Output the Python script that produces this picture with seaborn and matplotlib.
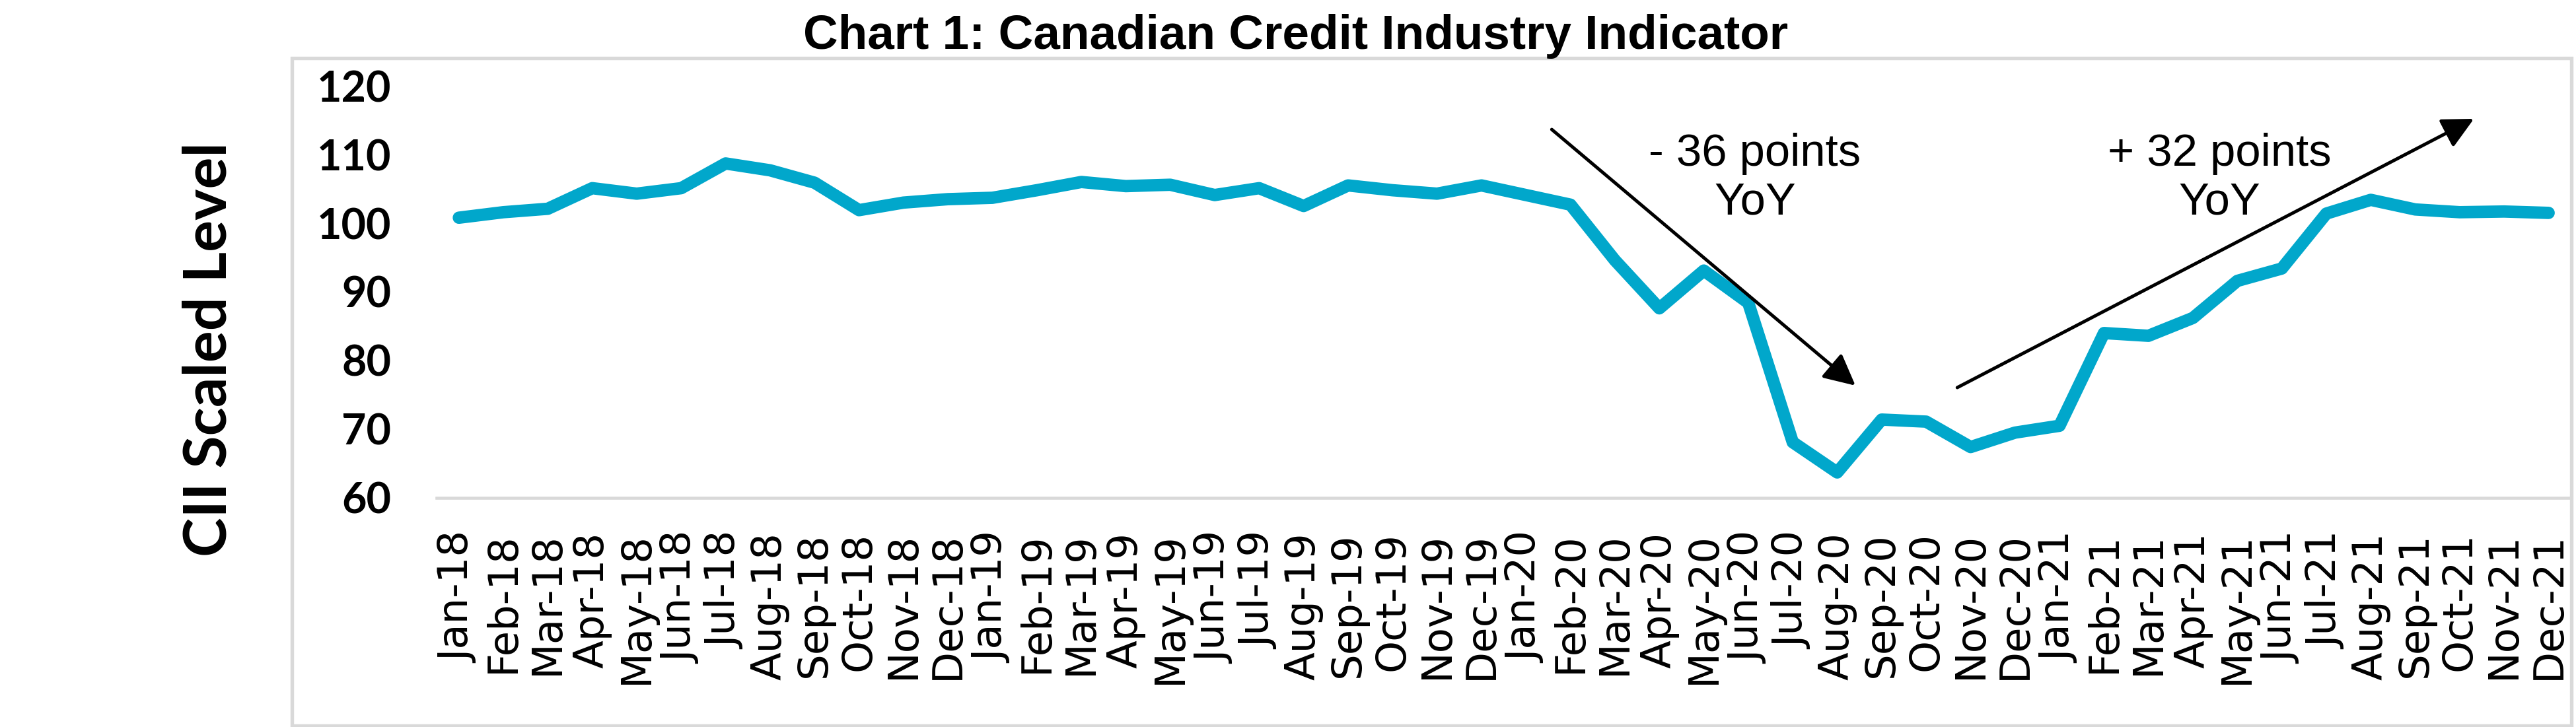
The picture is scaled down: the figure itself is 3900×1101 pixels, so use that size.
"""
Chart 1: Canadian Credit Industry Indicator (monthly, 2018-2021)
"""

import matplotlib
matplotlib.use("Agg")
import matplotlib.pyplot as plt
from matplotlib.patches import Rectangle
import pandas as pd
import seaborn as sns

months = [
    "Jan-18", "Feb-18", "Mar-18", "Apr-18", "May-18", "Jun-18",
    "Jul-18", "Aug-18", "Sep-18", "Oct-18", "Nov-18", "Dec-18",
    "Jan-19", "Feb-19", "Mar-19", "Apr-19", "May-19", "Jun-19",
    "Jul-19", "Aug-19", "Sep-19", "Oct-19", "Nov-19", "Dec-19",
    "Jan-20", "Feb-20", "Mar-20", "Apr-20", "May-20", "Jun-20",
    "Jul-20", "Aug-20", "Sep-20", "Oct-20", "Nov-20", "Dec-20",
    "Jan-21", "Feb-21", "Mar-21", "Apr-21", "May-21", "Jun-21",
    "Jul-21", "Aug-21", "Sep-21", "Oct-21", "Nov-21", "Dec-21",
]

cii_level = [
    100.8, 101.6, 102.1, 105.1, 104.3, 105.1,
    108.7, 107.7, 105.9, 101.9, 103.0, 103.5,
    103.7, 104.8, 106.0, 105.4, 105.6, 104.1,
    105.1, 102.5, 105.5, 104.8, 104.3, 105.5,
    104.1, 102.7, 94.6, 87.6, 93.1, 88.4,
    68.1, 63.7, 71.4, 71.1, 67.4, 69.5,
    70.5, 84.0, 83.6, 86.2, 91.6, 93.4,
    101.4, 103.4, 102.0, 101.6, 101.7, 101.5,
]

y_ticks = [60, 70, 80, 90, 100, 110, 120]

df = pd.DataFrame({"Month": months, "CII": cii_level})

sns.set_theme(style="white")
plt.rcParams["font.family"] = ["Liberation Sans", "DejaVu Sans"]
plt.rcParams["text.color"] = "black"
plt.rcParams["axes.labelcolor"] = "black"

fig = plt.figure(figsize=(13, 3.67), dpi=300)
ax = fig.add_axes([0.1695, 0.3152, 0.8285, 0.5667])

sns.lineplot(data=df, x="Month", y="CII", ax=ax, color="#01A7CB",
             linewidth=4.5, sort=False)
for ln in ax.lines:
    ln.set_solid_capstyle("round")
    ln.set_clip_on(False)

ax.set_xlim(-0.5, len(months) - 0.5)
ax.set_ylim(60, 120)
ax.set_yticks(y_ticks)
ax.set_xticks(range(len(months)))
ax.set_xticklabels(months, rotation=90, fontsize=15, family="DejaVu Sans",
                   va="top", ha="center")
for lbl in ax.get_yticklabels():
    lbl.set_family("Lato")
    lbl.set_fontweight("bold")
    lbl.set_fontsize(15.5)
ax.tick_params(axis="both", length=0, colors="black", labelcolor="black")
ax.tick_params(axis="y", pad=16.5)
ax.tick_params(axis="x", pad=12.5)

for side in ["top", "left", "right"]:
    ax.spines[side].set_visible(False)
ax.spines["bottom"].set_color("#D9D9D9")
ax.spines["bottom"].set_linewidth(1.1)

ax.set_xlabel("")
ax.set_ylabel("CII Scaled Level", family="Lato", fontweight="bold",
              fontsize=21.5, color="black")
ax.yaxis.set_label_coords(-0.094, 0.36)

# drop / recovery arrows
arrow_kw = dict(arrowstyle="-|>", color="black", lw=1.2,
                mutation_scale=24, shrinkA=0, shrinkB=0)
ax.annotate("", xy=(31.41, 76.35), xytext=(24.58, 113.65),
            arrowprops=arrow_kw, annotation_clip=False)
ax.annotate("", xy=(45.32, 115.2), xytext=(33.70, 76.06),
            arrowprops=arrow_kw, annotation_clip=False)

ax.text(29.15, 113.2, "- 36 points\nYoY", ha="center", va="top",
        multialignment="center", fontsize=16.5, color="black")
ax.text(39.6, 113.2, "+ 32 points\nYoY", ha="center", va="top",
        multialignment="center", fontsize=16.5, color="black")

fig.text(0.503, 1 - 74 / 1101, "Chart 1: Canadian Credit Industry Indicator",
         ha="center", va="baseline", fontsize=17.5, fontweight="bold",
         color="black")

# chart area border
fig.patches.append(Rectangle((442 / 3900, 2 / 1101), (3893 - 442) / 3900,
                             (1099 - 88) / 1101, transform=fig.transFigure,
                             fill=False, edgecolor="#D9D9D9", linewidth=1.3))

fig.savefig("out.png", dpi=300)
